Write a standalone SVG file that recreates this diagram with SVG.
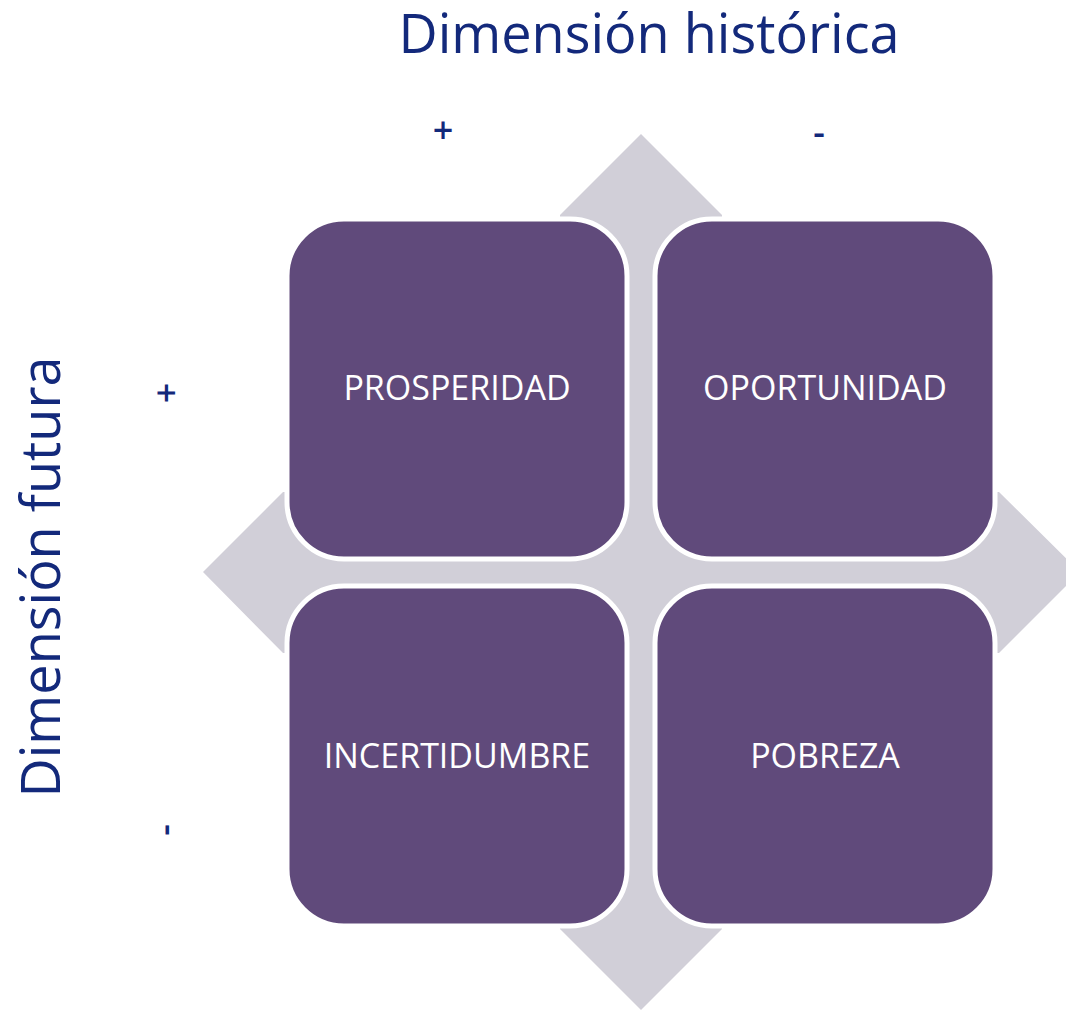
<svg xmlns="http://www.w3.org/2000/svg" width="1066" height="1010" viewBox="0 0 1066 1010">
  <style>
    .axis { font-family: "Open Sans", "Liberation Sans", sans-serif; fill: #13297B; }
    .title { font-size: 54px; }
    .sign { font-size: 36px; font-weight: 600; }
    .box { fill: #604A7B; stroke: #FFFFFF; stroke-width: 5; }
    .label { font-family: "Open Sans", "Liberation Sans", sans-serif; font-size: 34px; fill: #FFFFFF; text-anchor: middle; }
  </style>
  <rect width="1066" height="1010" fill="#FFFFFF"/>
  <g id="quad-arrow">
    <polygon fill="#D1CFD8" points="560,215 641,134 722,215 722,492 999,492 1080,572 999,653 722,653 722,929 641,1010 560,929 560,653 283,653 203,572 283,492 560,492"/>
  </g>
  <g id="axis-labels">
    <text class="axis title" x="649" y="53" text-anchor="middle">Dimensión histórica</text>
    <text class="axis sign" x="443" y="143" text-anchor="middle">+</text>
    <text class="axis sign" x="819" y="145" text-anchor="middle">-</text>
    <text class="axis title" transform="translate(60,577) rotate(-90)" x="0" y="0" text-anchor="middle">Dimensión futura</text>
    <text class="axis sign" transform="translate(179,393) rotate(-90)" x="0" y="0" text-anchor="middle">+</text>
    <text class="axis sign" transform="translate(177,830) rotate(-90)" x="0" y="0" text-anchor="middle">-</text>
  </g>
  <g id="node-prosperidad">
    <rect class="box" x="287" y="219" width="340" height="340" rx="57"/>
    <text class="label" x="457" y="400">PROSPERIDAD</text>
  </g>
  <g id="node-oportunidad">
    <rect class="box" x="655" y="219" width="340" height="340" rx="57"/>
    <text class="label" x="825" y="400">OPORTUNIDAD</text>
  </g>
  <g id="node-incertidumbre">
    <rect class="box" x="287" y="586" width="340" height="340" rx="57"/>
    <text class="label" x="457" y="768">INCERTIDUMBRE</text>
  </g>
  <g id="node-pobreza">
    <rect class="box" x="655" y="586" width="340" height="340" rx="57"/>
    <text class="label" x="825" y="768">POBREZA</text>
  </g>
  <g id="connectors"></g>
</svg>
